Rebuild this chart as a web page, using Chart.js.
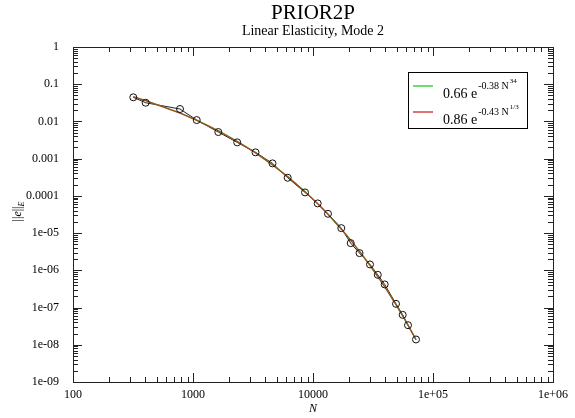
<!DOCTYPE html>
<html><head><meta charset="utf-8">
<script src="https://cdn.jsdelivr.net/npm/chart.js@4.4.1/dist/chart.umd.min.js"></script>
<style>html,body{margin:0;padding:0;background:#fff}#wrap{width:575px;height:418px}</style>
</head><body><div id="wrap"><canvas id="c" width="575" height="418"></canvas></div>
<script>
// ---- data ----
const nValues = [318, 403, 779, 1074, 1625, 2335, 3318, 4598, 6152, 8578, 10940, 13335, 17210, 20610, 24420, 29850, 34670, 39580, 49170, 55910, 61900, 72150];
const errValues = [0.0445, 0.0318, 0.0216, 0.0109, 0.00519, 0.00274, 0.00148, 0.000748, 0.000307, 0.000124, 6.28e-5, 3.30e-5, 1.36e-5, 5.38e-6, 2.90e-6, 1.44e-6, 7.57e-7, 4.18e-7, 1.26e-7, 6.37e-8, 3.36e-8, 1.39e-8];
const fitGreenValues = [0.0458, 0.0362, 0.0170, 0.0109, 0.00565, 0.00294, 0.00145, 0.000690, 0.000332, 0.000131, 6.2e-5, 3.2e-5, 1.29e-5, 6.5e-6, 3.25e-6, 1.36e-6, 6.8e-7, 3.62e-7, 1.19e-7, 5.98e-8, 3.38e-8, 1.37e-8];
const fitRedValues = [0.0464, 0.0364, 0.0167, 0.0107, 0.00555, 0.00290, 0.00143, 0.000680, 0.000327, 0.000130, 6.15e-5, 3.18e-5, 1.285e-5, 6.45e-6, 3.24e-6, 1.354e-6, 6.79e-7, 3.62e-7, 1.19e-7, 5.98e-8, 3.38e-8, 1.37e-8];
const xTickValues = [100, 1000, 10000, 100000, 1000000];
const xTickLabels = ['100', '1000', '10000', '1e+05', '1e+06'];
const yTickValues = [1, 0.1, 0.01, 0.001, 0.0001, 1e-5, 1e-6, 1e-7, 1e-8, 1e-9];
const yTickLabels = ['1', '0.1', '0.01', '0.001', '0.0001', '1e-05', '1e-06', '1e-07', '1e-08', '1e-09'];
const titleText = 'PRIOR2P';
const subtitleText = 'Linear Elasticity, Mode 2';
const xTitle = 'N';
const legendGreen = ['0.66 e', '-0.38 N', '34'];
const legendRed = ['0.86 e', '-0.43 N', '1/3'];

const SERIF = '"Liberation Serif", "DejaVu Serif", serif';
const GREEN = 'rgb(40,200,40)';
const RED = 'rgba(205,30,30,0.75)';

function labelFor(vals, labels, v) {
  for (let i = 0; i < vals.length; i++) {
    if (Math.abs(Math.log10(vals[i]) - Math.log10(v)) < 1e-6) return labels[i];
  }
  return '';
}

const decorPlugin = {
  id: 'decor',
  afterDraw(chart) {
    const ctx = chart.ctx;
    const a = chart.chartArea;
    const xs = chart.scales.x, ys = chart.scales.y;
    ctx.save();
    // frame
    ctx.strokeStyle = '#222';
    ctx.lineWidth = 1;
    ctx.strokeRect(Math.round(a.left) + 0.5, Math.round(a.top) + 0.5, Math.round(a.right - a.left), Math.round(a.bottom - a.top));
    // inward ticks
    ctx.beginPath();
    for (let e = 2; e <= 6; e++) {
      for (let m = 1; m <= 9; m++) {
        const v = m * Math.pow(10, e);
        if (v < 100 || v > 1e6) continue;
        const px = Math.round(xs.getPixelForValue(v)) + 0.5;
        const len = m === 1 ? 9 : 5;
        ctx.moveTo(px, a.bottom); ctx.lineTo(px, a.bottom - len);
        ctx.moveTo(px, a.top); ctx.lineTo(px, a.top + len);
      }
    }
    for (let e = -9; e <= 0; e++) {
      for (let m = 1; m <= 9; m++) {
        const v = m * Math.pow(10, e);
        if (v < 1e-9 * 0.999 || v > 1.001) continue;
        const py = Math.round(ys.getPixelForValue(v)) + 0.5;
        const len = m === 1 ? 9 : 5;
        ctx.moveTo(a.left, py); ctx.lineTo(a.left + len, py);
        ctx.moveTo(a.right, py); ctx.lineTo(a.right - len, py);
      }
    }
    ctx.stroke();

    // titles
    const cx = (a.left + a.right) / 2;
    ctx.fillStyle = '#000';
    ctx.textAlign = 'center';
    ctx.textBaseline = 'alphabetic';
    ctx.font = '21px ' + SERIF;
    ctx.fillText(titleText, cx, 19);
    ctx.font = '14px ' + SERIF;
    ctx.fillText(subtitleText, cx, 35);
    // x title
    ctx.font = 'italic 12px ' + SERIF;
    ctx.fillText(xTitle, cx, 412);

    // y title ||e||_E rotated
    ctx.save();
    ctx.translate(21, (a.top + a.bottom) / 2 - 3);
    ctx.rotate(-Math.PI / 2);
    const parts = [
      {t: '||', f: '12px ' + SERIF, dy: 0},
      {t: 'e', f: 'italic 12px ' + SERIF, dy: 0},
      {t: '||', f: '12px ' + SERIF, dy: 0},
      {t: 'E', f: 'italic 8px ' + SERIF, dy: 3}
    ];
    let tw = 0;
    parts.forEach(p => { ctx.font = p.f; p.w = ctx.measureText(p.t).width; tw += p.w; });
    let x0 = -tw / 2;
    ctx.textAlign = 'left';
    parts.forEach(p => { ctx.font = p.f; ctx.fillText(p.t, x0, p.dy); x0 += p.w; });
    ctx.restore();

    // legend
    const bx = 408, by = 72, bw = 119, bh = 56;
    ctx.fillStyle = '#fff';
    ctx.fillRect(bx, by, bw, bh);
    ctx.strokeStyle = '#000';
    ctx.lineWidth = 1;
    ctx.strokeRect(bx + 0.5, by + 0.5, bw, bh);
    function entry(color, txt, ly, base) {
      ctx.strokeStyle = color;
      ctx.lineWidth = 1.3;
      ctx.beginPath(); ctx.moveTo(413, ly); ctx.lineTo(433, ly); ctx.stroke();
      ctx.fillStyle = '#000';
      ctx.textAlign = 'left';
      ctx.font = '14px ' + SERIF;
      ctx.fillText(txt[0], 443, base);
      let w = ctx.measureText(txt[0]).width;
      ctx.font = '10px ' + SERIF;
      ctx.fillText(txt[1], 443 + w + 1, base - 9);
      let w2 = ctx.measureText(txt[1]).width;
      ctx.font = '7px ' + SERIF;
      ctx.fillText(txt[2], 443 + w + 1 + w2 + 1, base - 15);
    }
    entry(GREEN, legendGreen, 86, 98);
    entry('rgb(205,40,40)', legendRed, 112, 124);
    ctx.restore();
  }
};

const pts = (ys) => nValues.map((x, i) => ({x: x, y: ys[i]}));

new Chart(document.getElementById('c'), {
  type: 'scatter',
  data: {
    datasets: [
      {label: 'markers', data: pts(errValues), showLine: false, pointRadius: 3.5, pointBorderWidth: 1,
       pointBorderColor: '#111', pointBackgroundColor: 'rgba(0,0,0,0)'},
      {label: 'fitRed', data: pts(fitRedValues), showLine: true, borderColor: RED, borderWidth: 1.3, pointRadius: 0},
      {label: 'fitGreen', data: pts(fitGreenValues), showLine: true, borderColor: GREEN, borderWidth: 1.3, pointRadius: 0},
      {label: 'dataLine', data: pts(errValues), showLine: true, borderColor: '#222', borderWidth: 1, pointRadius: 0}
    ]
  },
  options: {
    responsive: false,
    animation: false,
    devicePixelRatio: 1,
    layout: {padding: {left: 0, top: 47, right: 22, bottom: 0}},
    plugins: {legend: {display: false}, tooltip: {enabled: false}, title: {display: false}},
    scales: {
      x: {
        type: 'logarithmic', position: 'bottom', min: 100, max: 1e6,
        grid: {display: false}, border: {display: false},
        afterBuildTicks(scale) { scale.ticks = xTickValues.map(v => ({value: v, major: true})); },
        afterFit(scale) { scale.height = 36; },
        ticks: {autoSkip: false, maxRotation: 0, padding: -2, color: '#000',
          font: {family: SERIF, size: 12},
          callback: (v) => labelFor(xTickValues, xTickLabels, v)}
      },
      y: {
        type: 'logarithmic', position: 'left', min: 1e-9, max: 1,
        grid: {display: false}, border: {display: false},
        afterBuildTicks(scale) { scale.ticks = yTickValues.slice().reverse().map(v => ({value: v, major: true})); },
        afterFit(scale) { scale.width = 73; },
        ticks: {autoSkip: false, padding: 6, color: '#000',
          font: {family: SERIF, size: 12},
          callback: (v) => labelFor(yTickValues, yTickLabels, v)}
      }
    }
  },
  plugins: [decorPlugin]
});
</script>
</body></html>
